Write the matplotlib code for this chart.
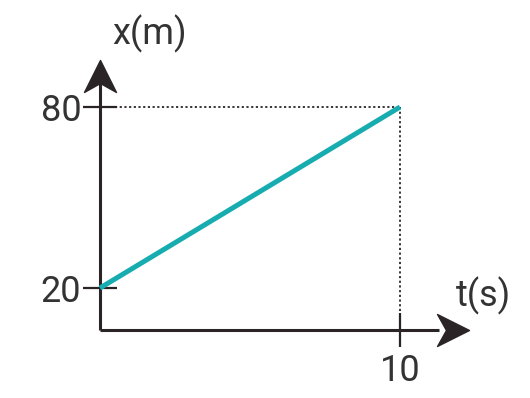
import matplotlib.pyplot as plt
from matplotlib.path import Path

# data
t = [0, 10]
x = [20, 80]
xticks = [10]
yticks = [20, 80]

# schematic axes ends (where the arrows sit and the axes cross)
t_tip = 12.3
x_tip = 95.5
x_base = 6.1

ink = '#2a2426'
teal = '#16acb0'
plt.rcParams['font.family'] = ['Roboto', 'DejaVu Sans']

fig = plt.figure(figsize=(5.3, 3.98), dpi=100)
ax = fig.add_axes([0, 0, 1, 1])
ax.set_xlim(-3.333, 14.333)
ax.set_ylim(-16.46, 115.47)

# axes lines
for s in ['top', 'right']:
    ax.spines[s].set_visible(False)
ax.spines['left'].set_position(('data', 0))
ax.spines['bottom'].set_position(('data', x_base))
ax.spines['left'].set_bounds(x_base, x_tip - 3)
ax.spines['bottom'].set_bounds(0, t_tip - 1)
for s in ['left', 'bottom']:
    ax.spines[s].set_linewidth(2.2)
    ax.spines[s].set_color(ink)
    ax.spines[s].set_capstyle('butt')

ax.set_xticks(xticks)
ax.set_yticks(yticks)
ax.tick_params(direction='inout', length=25, width=1.6, colors=ink,
               labelsize=26, labelcolor='#333333')
ax.tick_params(axis='x', pad=4)
ax.tick_params(axis='y', pad=1)

# arrow heads
up = Path([(0, 0), (-0.5, -1), (0, -0.72), (0.5, -1), (0, 0)],
          [Path.MOVETO, Path.LINETO, Path.LINETO, Path.LINETO, Path.CLOSEPOLY])
right = Path([(0, 0), (-1, 0.5), (-0.72, 0), (-1, -0.5), (0, 0)],
             [Path.MOVETO, Path.LINETO, Path.LINETO, Path.LINETO, Path.CLOSEPOLY])
ax.plot(0, x_tip, marker=up, ms=46, color=ink, clip_on=False)
ax.plot(t_tip, x_base, marker=right, ms=46, color=ink, clip_on=False)

# dotted guides
ax.plot([0.5, t[1]], [x[1], x[1]], ls=(0, (1.2, 1.4)), lw=1.3, color=ink)
ax.plot([t[1], t[1]], [x[1], x_base], ls=(0, (1.2, 1.4)), lw=1.3, color=ink)

# the line
ax.plot(t, x, color=teal, lw=3.6, solid_capstyle='butt', zorder=3)

ax.text(0.4, x_tip + 2.5, 'x(m)', fontsize=26,
        color='#333333', ha='left', va='bottom')
ax.text(11.85, x_base + 5, 't(s)', fontsize=26,
        color='#333333', ha='left', va='bottom')

plt.savefig('out.png', dpi=100)
